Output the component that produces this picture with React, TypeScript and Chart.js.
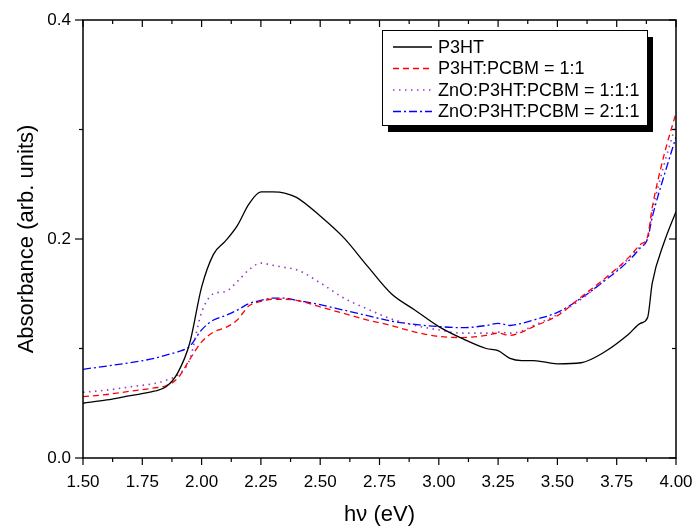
import React, { useEffect, useRef } from "react";
import { Chart, registerables } from "chart.js";

Chart.register(...registerables);

const energy = [1.5, 1.6, 1.7, 1.8, 1.85, 1.9, 1.95, 2.0, 2.05, 2.1, 2.15, 2.2, 2.25, 2.3, 2.35, 2.4, 2.5, 2.6, 2.7, 2.8, 2.9, 3.0, 3.1, 3.2, 3.25, 3.3, 3.35, 3.4, 3.5, 3.6, 3.7, 3.8, 3.85, 3.88, 3.9, 3.95, 4.0];

const p3ht = [0.05, 0.053, 0.057, 0.061, 0.065, 0.078, 0.105, 0.156, 0.186, 0.198, 0.212, 0.232, 0.243, 0.243, 0.242, 0.238, 0.221, 0.201, 0.175, 0.15, 0.135, 0.12, 0.109, 0.1, 0.098, 0.091, 0.089, 0.089, 0.086, 0.087, 0.097, 0.113, 0.123, 0.128, 0.16, 0.197, 0.225];
const p3htPcbm = [0.056, 0.058, 0.061, 0.064, 0.066, 0.073, 0.09, 0.106, 0.115, 0.119, 0.126, 0.139, 0.143, 0.145, 0.145, 0.144, 0.138, 0.132, 0.126, 0.121, 0.115, 0.111, 0.11, 0.112, 0.114, 0.112, 0.115, 0.12, 0.13, 0.147, 0.164, 0.183, 0.195, 0.202, 0.229, 0.277, 0.315];
const zno111 = [0.06, 0.062, 0.065, 0.068, 0.071, 0.076, 0.09, 0.133, 0.15, 0.152, 0.161, 0.172, 0.178, 0.176, 0.174, 0.172, 0.16, 0.146, 0.136, 0.127, 0.121, 0.117, 0.114, 0.114, 0.115, 0.114, 0.116, 0.121, 0.131, 0.145, 0.163, 0.182, 0.193, 0.2, 0.225, 0.268, 0.305];
const zno211 = [0.081, 0.084, 0.087, 0.091, 0.094, 0.097, 0.102, 0.117, 0.126, 0.13, 0.135, 0.141, 0.144, 0.146, 0.146, 0.144, 0.14, 0.135, 0.13, 0.125, 0.122, 0.12, 0.119, 0.121, 0.123, 0.121, 0.123, 0.126, 0.133, 0.146, 0.162, 0.18, 0.192, 0.2, 0.22, 0.258, 0.293];

const seriesLabels = ["P3HT", "P3HT:PCBM = 1:1", "ZnO:P3HT:PCBM = 1:1:1", "ZnO:P3HT:PCBM = 2:1:1"];
const seriesColors = ["#000000", "#ff0000", "#9a35c0", "#0000ff"];
const seriesDashes: number[][] = [[], [6, 4], [1.5, 4.5], [8, 3, 2, 3]];

const xMajorTicks = [1.5, 1.75, 2.0, 2.25, 2.5, 2.75, 3.0, 3.25, 3.5, 3.75, 4.0];
const xMinorTicks = [1.625, 1.875, 2.125, 2.375, 2.625, 2.875, 3.125, 3.375, 3.625, 3.875];
const yMajorTicks = [0.0, 0.2, 0.4];
const yMinorTicks = [0.1, 0.3];

const FONT = "'Liberation Sans', Arial, Helvetica, sans-serif";

const framePlugin = {
  id: "originFrame",
  afterDraw(chart: any) {
    const { ctx, chartArea: a, scales } = chart;
    const xs = scales.x;
    const ys = scales.y;
    ctx.save();
    ctx.strokeStyle = "#000";
    ctx.lineWidth = 1.5;
    ctx.setLineDash([]);
    ctx.strokeRect(a.left, a.top, a.right - a.left, a.bottom - a.top);
    ctx.lineWidth = 1.2;
    const tick = (x1: number, y1: number, x2: number, y2: number) => {
      ctx.beginPath();
      ctx.moveTo(x1, y1);
      ctx.lineTo(x2, y2);
      ctx.stroke();
    };
    xMajorTicks.forEach((v) => {
      const px = xs.getPixelForValue(v);
      tick(px, a.bottom, px, a.bottom + 7);
      tick(px, a.top, px, a.top + 7);
    });
    xMinorTicks.forEach((v) => {
      const px = xs.getPixelForValue(v);
      tick(px, a.bottom, px, a.bottom + 4);
      tick(px, a.top, px, a.top + 4);
    });
    yMajorTicks.forEach((v) => {
      const py = ys.getPixelForValue(v);
      tick(a.left - 8, py, a.left, py);
      tick(a.right, py, a.right - 7, py);
    });
    yMinorTicks.forEach((v) => {
      const py = ys.getPixelForValue(v);
      tick(a.left - 4, py, a.left, py);
      tick(a.right, py, a.right - 4, py);
    });

    // legend
    const bx = 382, by = 30, bw = 265, bh = 95;
    ctx.fillStyle = "#000";
    ctx.fillRect(bx + 6, by + 7, bw, bh);
    ctx.fillStyle = "#fff";
    ctx.fillRect(bx, by, bw, bh);
    ctx.lineWidth = 1;
    ctx.strokeStyle = "#000";
    ctx.strokeRect(bx + 0.5, by + 0.5, bw, bh);
    const rows = [47, 68.5, 90, 111.5];
    ctx.font = `18px ${FONT}`;
    ctx.textBaseline = "middle";
    ctx.textAlign = "left";
    seriesLabels.forEach((lab, i) => {
      ctx.strokeStyle = seriesColors[i];
      ctx.lineWidth = i === 2 ? 1.5 : 1.3;
      ctx.setLineDash(seriesDashes[i]);
      ctx.beginPath();
      ctx.moveTo(393, rows[i]);
      ctx.lineTo(432, rows[i]);
      ctx.stroke();
      ctx.setLineDash([]);
      ctx.fillStyle = "#000";
      ctx.fillText(lab, 438, rows[i] + 1);
    });
    ctx.restore();
  },
};

export default function App() {
  const ref = useRef<HTMLCanvasElement | null>(null);
  useEffect(() => {
    if (!ref.current) return;
    const allSeries = [p3ht, p3htPcbm, zno111, zno211];
    const chart = new Chart(ref.current, {
      type: "line",
      data: {
        datasets: allSeries.map((vals, i) => ({
          label: seriesLabels[i],
          data: energy.map((e, k) => ({ x: e, y: vals[k] })),
          borderColor: seriesColors[i],
          borderWidth: i === 2 ? 1.6 : 1.3,
          borderDash: seriesDashes[i],
          pointRadius: 0,
          fill: false,
          cubicInterpolationMode: "monotone" as const,
        })),
      },
      options: {
        responsive: false,
        animation: false,
        devicePixelRatio: 1,
        layout: { padding: { top: 20, right: 19, left: 0, bottom: 0 } },
        plugins: { legend: { display: false }, tooltip: { enabled: false } },
        scales: {
          x: {
            type: "linear",
            min: 1.5,
            max: 4.0,
            grid: { display: false },
            border: { display: false },
            afterFit: (s: any) => {
              s.height = 70;
              s.paddingRight = 0;
              s.paddingLeft = 0;
            },
            ticks: {
              stepSize: 0.125,
              autoSkip: false,
              maxRotation: 0,
              padding: 6,
              color: "#000",
              font: { family: FONT, size: 17 },
              callback: (v: any) => {
                const n = Number(v);
                return Math.abs(n * 4 - Math.round(n * 4)) < 1e-6 ? n.toFixed(2) : "";
              },
            },
            title: {
              display: true,
              text: "hν (eV)",
              color: "#000",
              font: { family: FONT, size: 22 },
              padding: { top: 0, bottom: 0 },
            },
          },
          y: {
            type: "linear",
            min: 0,
            max: 0.4,
            grid: { display: false },
            border: { display: false },
            afterFit: (s: any) => {
              s.width = 83;
              s.paddingTop = 0;
              s.paddingBottom = 0;
            },
            ticks: {
              stepSize: 0.1,
              autoSkip: false,
              padding: 4,
              color: "#000",
              font: { family: FONT, size: 17 },
              callback: (v: any) => {
                const n = Number(v);
                return Math.abs(n * 5 - Math.round(n * 5)) < 1e-6 ? n.toFixed(1) : "";
              },
            },
            title: {
              display: true,
              text: "Absorbance (arb. units)",
              color: "#000",
              font: { family: FONT, size: 22 },
              padding: { top: 14, bottom: 0 },
            },
          },
        },
      },
      plugins: [framePlugin],
    });
    return () => chart.destroy();
  }, []);
  return (
    <div style={{ position: "absolute", left: 0, top: 0, width: 695, height: 528, background: "#fff" }}>
      <canvas ref={ref} width={695} height={528} />
    </div>
  );
}
